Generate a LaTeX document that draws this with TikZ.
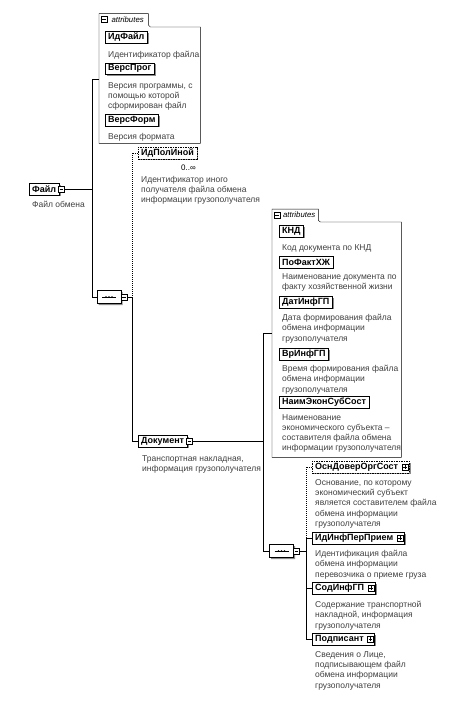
\documentclass[tikz,border=0pt]{standalone}
\usepackage{fontspec}
\setmainfont{Liberation Sans}
\usetikzlibrary{positioning,shapes.misc,shadows}

\tikzset{
  elem/.style={draw, fill=white, anchor=west, inner xsep=3pt, inner ysep=0pt,
    minimum height=11.5pt, font=\bfseries\fontsize{9}{10}\selectfont,
    drop shadow={shadow xshift=1.5pt, shadow yshift=-1.5pt, fill=black!45, opacity=1}},
  optelem/.style={elem, dash pattern=on 1.5pt off 1pt},
  desc/.style={anchor=north west, align=left, inner sep=0pt, text=black!75,
    font=\fontsize{8.5}{10.3}\selectfont},
  icon/.style={draw, fill=white, anchor=west, minimum size=6pt, inner sep=0pt},
  minusicon/.style={icon, path picture={
    \draw ([xshift=1.2pt]path picture bounding box.west) -- ([xshift=-1.2pt]path picture bounding box.east);}},
  plusicon/.style={icon, path picture={
    \draw ([xshift=1.2pt]path picture bounding box.west) -- ([xshift=-1.2pt]path picture bounding box.east);
    \draw ([yshift=1.2pt]path picture bounding box.south) -- ([yshift=-1.2pt]path picture bounding box.north);}},
  seqbox/.style={chamfered rectangle, chamfered rectangle xsep=4pt, draw, fill=white,
    minimum width=24pt, minimum height=13pt, inner sep=0pt,
    drop shadow={shadow xshift=1.5pt, shadow yshift=-1.5pt, fill=black!45, opacity=1}},
  attrframe/.style={anchor=north west, inner sep=0pt},
  attrtab/.style={anchor=south west, inner xsep=2pt, inner ysep=0pt, minimum height=11pt,
    font=\itshape\fontsize{7.8}{8}\selectfont},
  occurs/.style={anchor=east, inner sep=0pt, font=\fontsize{8}{9}\selectfont},
  optline/.style={dash pattern=on 1pt off 1pt}
}

\begin{document}
\begin{tikzpicture}[x=1pt,y=-1pt]
\fill[white] (0,0) rectangle (454,709);
\useasboundingbox (0,0) rectangle (454,709);

% root element
\node[elem] (fail) at (29,189) {Файл};
\node[minusicon] (failI) at ([xshift=-1pt]fail.east) {};
\node[desc] (faild) at (32,201) {Файл обмена};

% attributes of Файл
\node[attrframe, minimum width=101pt, minimum height=116pt] (attr1) at (99,27) {};
\node[attrtab, minimum width=49pt] (attr1t) at ([yshift=2pt]attr1.north west) {\hspace*{8pt}attributes};
\node[minusicon] (attr1I) at ([xshift=2pt]attr1t.west) {};
\draw (attr1.north west) -- (attr1t.north west) -- (attr1t.north east) -- (attr1t.south east)
  -- ([xshift=2pt]attr1t.south east |- attr1.north) -- (attr1.north east)
  -- (attr1.south east) -- (attr1.south west) -- cycle;
\node[elem] (idf) at (105,37) {ИдФайл};
\node[desc] (idfd) at (108,51) {Идентификатор файла};
\node[elem] (versp) at (105,68.5) {ВерсПрог};
\node[desc] (verspd) at (108,82) {Версия программы, с\\помощью которой\\сформирован файл};
\node[elem] (versf) at (105,120) {ВерсФорм};
\node[desc] (versfd) at (108,133) {Версия формата};

% sequence of Файл
\coordinate (j1a) at (92,79);
\coordinate (j1b) at (92,297);
\node[seqbox] (seq1) at (109,297) {};
\node[minusicon] (seq1I) at ([xshift=-0.5pt]seq1.east) {};
\draw (failI.east) -- (failI.east -| j1a);
\draw (j1a) -- (j1a -| attr1.west);
\draw (j1a) -- (j1b) -- (seq1.west);

\coordinate (j2a) at (132,153);
\coordinate (j2b) at (132,297);
\coordinate (j2c) at (132,441);
\node[optelem] (idpol) at (138,153) {ИдПолИной};
\node[occurs] (idpolo) at (196,168) {0..∞};
\node[desc] (idpold) at (141,176) {Идентификатор иного\\получателя файла обмена\\информации грузополучателя};
\node[elem] (dok) at (138,441) {Документ};
\node[minusicon] (dokI) at ([xshift=-1pt]dok.east) {};
\node[desc] (dokd) at (142,455) {Транспортная накладная,\\информация грузополучателя};
\draw[optline] (idpol.west) -- (j2a) -- (j2b);
\draw (seq1I.east) -- (j2b) -- (j2c) -- (dok.west);

% attributes of Документ
\node[attrframe, minimum width=129pt, minimum height=235pt] (attr2) at (272,222) {};
\node[attrtab, minimum width=46pt] (attr2t) at ([yshift=1.5pt]attr2.north west) {\hspace*{8pt}attributes};
\node[minusicon] (attr2I) at ([xshift=2pt]attr2t.west) {};
\draw (attr2.north west) -- (attr2t.north west) -- (attr2t.north east) -- (attr2t.south east)
  -- ([xshift=2pt]attr2t.south east |- attr2.north) -- (attr2.north east)
  -- (attr2.south east) -- (attr2.south west) -- cycle;
\node[elem] (knd) at (279,231) {КНД};
\node[desc] (kndd) at (282,244) {Код документа по КНД};
\node[elem] (pofakt) at (279,262) {ПоФактХЖ};
\node[desc] (pofaktd) at (282,273) {Наименование документа по\\факту хозяйственной жизни};
\node[elem] (datinf) at (279,302) {ДатИнфГП};
\node[desc] (datinfd) at (282,314) {Дата формирования файла\\обмена информации\\грузополучателя};
\node[elem] (vrinf) at (279,354) {ВрИнфГП};
\node[desc] (vrinfd) at (282,365) {Время формирования файла\\обмена информации\\грузополучателя};
\node[elem] (naim) at (279,402) {НаимЭконСубСост};
\node[desc] (naimd) at (282,414) {Наименование\\экономического субъекта --\\составителя файла обмена\\информации грузополучателя};

% sequence of Документ
\coordinate (j3a) at (263,333);
\coordinate (j3b) at (263,551);
\node[seqbox] (seq2) at (281.5,551) {};
\node[minusicon] (seq2I) at ([xshift=-0.5pt]seq2.east) {};
\draw (dokI.east) -- (dokI.east -| j3a);
\draw (j3a) -- (j3a -| attr2.west);
\draw (j3a) -- (j3b) -- (seq2.west);

\coordinate (j4a) at (306,467);
\coordinate (j4b) at (306,538);
\coordinate (j4c) at (306,588);
\coordinate (j4d) at (306,639);
\node[optelem] (osn) at (312,467) {ОснДоверОргСост\hspace{8pt}\null};
\node[plusicon, anchor=east] (osnI) at ([xshift=-1pt]osn.east) {};
\node[desc] (osnd) at (315,479) {Основание, по которому\\экономический субъект\\является составителем файла\\обмена информации\\грузополучателя};
\node[elem] (idinf) at (312,538) {ИдИнфПерПрием\hspace{8pt}\null};
\node[plusicon, anchor=east] (idinfI) at ([xshift=-1pt]idinf.east) {};
\node[desc] (idinfd) at (315,550) {Идентификация файла\\обмена информации\\перевозчика о приеме груза};
\node[elem] (sod) at (312,588) {СодИнфГП\hspace{8pt}\null};
\node[plusicon, anchor=east] (sodI) at ([xshift=-1pt]sod.east) {};
\node[desc] (sodd) at (315,601) {Содержание транспортной\\накладной, информация\\грузополучателя};
\node[elem] (podp) at (312,639) {Подписант\hspace{8pt}\null};
\node[plusicon, anchor=east] (podpI) at ([xshift=-1pt]podp.east) {};
\node[desc] (podpd) at (315,651) {Сведения о Лице,\\подписывающем файл\\обмена информации\\грузополучателя};
\draw (seq2I.east) -- (seq2I.east -| j4a);
\draw[optline] (osn.west) -- (j4a) -- (j4b);
\draw (j4b) -- (j4d);
\draw (j4b) -- (idinf.west);
\draw (j4c) -- (sod.west);
\draw (j4d) -- (podp.west);

% sequence symbols
\foreach \s in {seq1,seq2} {
  \draw ([xshift=-7pt]\s.center) -- ([xshift=7pt]\s.center);
  \foreach \d in {-3,0,3}
    \fill ([xshift=\d pt]\s.center) circle (0.9pt);
}
\end{tikzpicture}
\end{document}
